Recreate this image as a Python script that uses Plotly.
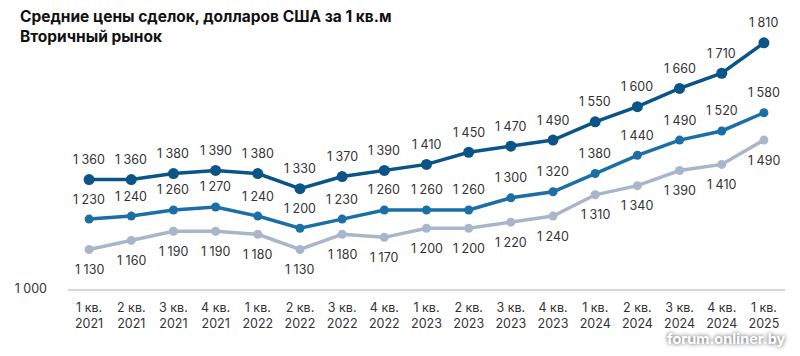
import plotly.graph_objects as go

categories = ["1 кв.<br>2021", "2 кв.<br>2021", "3 кв.<br>2021", "4 кв.<br>2021",
              "1 кв.<br>2022", "2 кв.<br>2022", "3 кв.<br>2022", "4 кв.<br>2022",
              "1 кв.<br>2023", "2 кв.<br>2023", "3 кв.<br>2023", "4 кв.<br>2023",
              "1 кв.<br>2024", "2 кв.<br>2024", "3 кв.<br>2024", "4 кв.<br>2024",
              "1 кв.<br>2025"]
top_series = [1360, 1360, 1380, 1390, 1380, 1330, 1370, 1390, 1410, 1450, 1470, 1490,
              1550, 1600, 1660, 1710, 1810]
mid_series = [1230, 1240, 1260, 1270, 1240, 1200, 1230, 1260, 1260, 1260, 1300, 1320,
              1380, 1440, 1490, 1520, 1580]
low_series = [1130, 1160, 1190, 1190, 1180, 1130, 1180, 1170, 1200, 1200, 1220, 1240,
              1310, 1340, 1390, 1410, 1490]

def fmt(v):
    return f"{v:,}".replace(",", " ")

FONT = "Inter"
TXT = "#333333"
fig = go.Figure()
series = [
    (low_series, "#a8b6ca", 9, -20),
    (mid_series, "#1b6fa6", 9, 20),
    (top_series, "#0a5487", 11, 20),
]
annotations = []
for vals, color, ms, off in series:
    fig.add_trace(go.Scatter(
        x=categories, y=vals, mode="lines+markers",
        line=dict(color=color, width=3.5),
        marker=dict(color=color, size=ms),
        cliponaxis=False, showlegend=False, hoverinfo="x+y",
    ))
    for c, v in zip(categories, vals):
        annotations.append(dict(x=c, y=v, xref="x", yref="y", text=fmt(v),
                                showarrow=False, yshift=off, xanchor="center",
                                yanchor="middle",
                                font=dict(family=FONT, size=12.5, color=TXT)))

annotations += [
    dict(text="<b>Средние цены сделок, долларов США за 1 кв.м</b><br><b>Вторичный рынок</b>",
         xref="paper", yref="paper", x=0, y=1, xshift=-50, yshift=26,
         xanchor="left", yanchor="top", align="left", showarrow=False,
         font=dict(family=FONT, size=15.5, color="#111111")),
    dict(text="<b>forum.onliner.by</b>", xref="paper", yref="paper",
         x=1, y=0, xshift=3, yshift=-49, xanchor="right", yanchor="middle",
         showarrow=False,
         font=dict(family=FONT, size=14.5, color="white", shadow="0px 0px 4px #444")),
]

fig.update_layout(
    width=800, height=356,
    margin=dict(l=60, r=23, t=23, b=75, autoexpand=False),
    paper_bgcolor="white", plot_bgcolor="white",
    xaxis=dict(type="category", range=[-0.5, 16.5], showgrid=False,
               showline=True, linecolor="#d6d6d6", linewidth=1.5,
               ticks="", automargin=False, ticklabelstandoff=6,
               tickfont=dict(family=FONT, size=12.5, color=TXT)),
    yaxis=dict(range=[1000, 1849], tickvals=[1000], ticktext=["1 000"],
               showgrid=False, zeroline=False, automargin=False,
               showline=False, ticks="", ticklabelstandoff=20,
               tickfont=dict(family=FONT, size=12.5, color=TXT)),
    annotations=annotations,
)
fig.write_html("out.html")
